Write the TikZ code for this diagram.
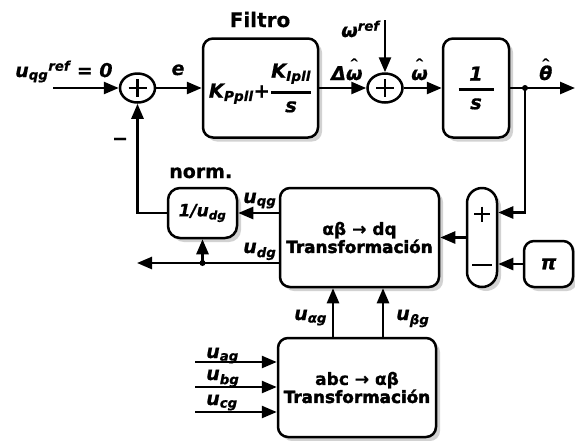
\documentclass[tikz,border=0pt]{standalone}
\usepackage{amsmath}
\usepackage{fontspec}
\setmainfont{DejaVu Sans}[BoldFeatures={FakeBold=0.6},BoldItalicFeatures={FakeBold=0.6}]
\newfontfamily\heavyfont{DejaVu Sans Bold}[FakeBold=2.5]
\usetikzlibrary{arrows.meta,shadows,shapes.geometric}
% hat over a symbol, and a fraction with a thick bar
\newcommand{\hatted}[1]{\setbox0\hbox{#1}\rlap{\hbox to \wd0{\hss\raisebox{0.72em}{\fontsize{11}{11}\selectfont\textasciicircum}\hss}}\box0}
\newcommand{\blkfrac}[2]{$\genfrac{}{}{2.5pt}{0}{\hbox{#1}}{\hbox{#2}}$}
\begin{document}
\begin{tikzpicture}[x=1pt,y=-1pt,line width=2.5pt,>={Triangle[length=15pt,width=12pt]},
  blk/.style={draw,rounded corners=10pt,fill=white,inner sep=0pt,
    drop shadow={shadow xshift=4pt,shadow yshift=-4pt,fill=black!35}},
  sumnode/.style={draw,ellipse,minimum width=35pt,minimum height=29pt,inner sep=0pt,fill=white},
  lbl/.style={font=\fontsize{19}{19}\selectfont\bfseries\itshape,inner sep=0pt},
  trf/.style={font=\fontsize{17}{19}\selectfont\bfseries,align=center}]
\path[use as bounding box] (0,0) rectangle (575,440);

% forward path
\coordinate (uin) at (53,88);
\node[sumnode] (s1) at (137.5,88) {};
\node[blk,minimum width=115pt,minimum height=99pt,font=\fontsize{19.5}{19.5}\selectfont\bfseries\itshape] (filt) at (260.5,88) {K\textsubscript{Ppll}+\blkfrac{K\textsubscript{Ipll}}{s}};
\node[sumnode] (s2) at (385,88) {};
\coordinate (wrefin) at (385,20);
\node[blk,minimum width=66pt,minimum height=99pt,font=\fontsize{19.5}{19.5}\selectfont\bfseries\itshape] (integ) at (476,88) {\blkfrac{\makebox[35pt]{1}}{s}};
\coordinate (jn) at (525,88);
\coordinate (thout) at (575,88);

\draw (s1.center) ++(-9,0) -- ++(18,0);
\draw (s1.center) ++(0,-9) -- ++(0,18);
\draw (s2.center) ++(-9,0) -- ++(18,0);
\draw (s2.center) ++(0,-9) -- ++(0,18);

\path[draw,->] (uin) -- (s1);
\path[draw,->] (s1) -- (filt);
\path[draw,->] (filt) -- (s2);
\path[draw,->] (wrefin) -- (s2);
\path[draw,->] (s2) -- (integ);
\path[draw,->] (integ) -- (thout);
\fill (jn) circle (3);

% feedback path
\node[blk,rounded corners=15pt,minimum width=30pt,minimum height=99pt] (pm) at (482,237.5) {};
\draw (pm.center) ++(-8,-23.5) -- ++(16,0);
\draw (pm.center) ++(0,-31) -- ++(0,15);
\draw (pm.center) ++(-10,27.5) -- ++(20,0);
\node[blk,minimum width=49pt,minimum height=46pt,font=\fontsize{20}{20}\selectfont\bfseries\itshape] (pi) at (548.5,264) {π};
\node[blk,minimum width=159pt,minimum height=99pt,trf] (dq) at (359.5,237.5) {αβ → dq\\[-1pt]\heavyfont\mdseries\fontsize{16.8}{17}\selectfont Transformación};
\node[blk,rounded corners=12pt,minimum width=69pt,minimum height=50pt,font=\fontsize{17}{17}\selectfont\bfseries\itshape] (norm) at (202.5,213) {1/u\textsubscript{dg}};
\coordinate (udout) at (137,263);
\coordinate (udj) at (202.5,263);

\path[draw,->] (jn) |- ([yshift=25pt]pm.east);
\path[draw,->] (pi) -- (pi -| pm.east);
\path[draw,->] (pm) -- (dq);
\path[draw,->] (dq.west |- norm.east) -- (norm.east);
\path[draw,->] ([yshift=-25.5pt]dq.west) -- (udout);
\fill (udj) circle (3);
\path[draw,->] (udj) -- (norm.south);
\path[draw,->] (norm.west) -| (s1.south);

% abc frame
\node[blk,minimum width=158pt,minimum height=99pt,trf] (abc) at (357,387.5) {abc → αβ\\[-1pt]\heavyfont\mdseries\fontsize{16.8}{17}\selectfont Transformación};
\coordinate (ua) at (195,362);
\coordinate (ub) at (195,387);
\coordinate (uc) at (195,412);
\path[draw,->] ([xshift=-24pt]abc.north) -- ([xshift=-24pt]abc.north |- dq.south);
\path[draw,->] ([xshift=26pt]abc.north) -- ([xshift=26pt]abc.north |- dq.south);
\path[draw,->] (ua) -- (ua -| abc.west);
\path[draw,->] (ub) -- (ub -| abc.west);
\path[draw,->] (uc) -- (uc -| abc.west);

% labels
\node[font=\fontsize{20}{20}\selectfont\bfseries,anchor=base,inner sep=0pt] (filtlbl) at (260,27) {Filtro};
\node[lbl,anchor=base west] (ureflbl) at (14,77) {u\textsubscript{qg}\textsuperscript{ref} = 0};
\node[lbl,anchor=base] (elbl) at (178,75) {e};
\node[lbl,anchor=base west] (wreflbl) at (340,37) {ω\textsuperscript{ref}};
\node[lbl,anchor=base west] (dwlbl) at (330,80) {Δ\hatted{ω}};
\node[lbl,anchor=base west] (wlbl) at (410,80) {\hatted{ω}};
\node[lbl,anchor=base west] (thlbl) at (538,80) {\hatted{θ}};
\node[lbl,anchor=base] (minus) at (120,145) {−};
\node[font=\fontsize{19}{19}\selectfont\bfseries,anchor=base west,inner sep=0pt] (normlbl) at (168,178) {norm.};
\node[lbl,anchor=base west] (uqlbl) at (242,203) {u\textsubscript{qg}};
\node[lbl,anchor=base west] (udlbl) at (242,253) {u\textsubscript{dg}};
\node[lbl,anchor=base west] (ualbl) at (293,320) {u\textsubscript{αg}};
\node[lbl,anchor=base west] (ublbl) at (395,320) {u\textsubscript{βg}};
\node[lbl,anchor=base west] (ua2lbl) at (205,358) {u\textsubscript{ag}};
\node[lbl,anchor=base west] (ub2lbl) at (205,380) {u\textsubscript{bg}};
\node[lbl,anchor=base west] (uc2lbl) at (205,405) {u\textsubscript{cg}};
\end{tikzpicture}
\end{document}
